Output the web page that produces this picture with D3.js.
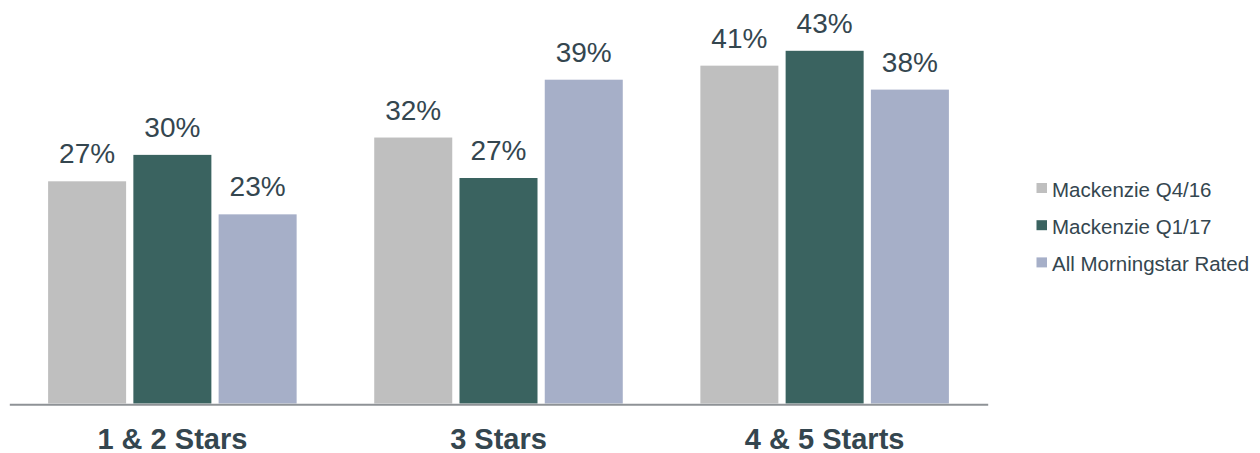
<!DOCTYPE html>
<html>
<head>
    <meta charset="utf-8">
    <title>Morningstar ratings</title>
    <script type="text/javascript" src="https://cdnjs.cloudflare.com/ajax/libs/d3/7.8.5/d3.min.js"></script>
    <style>
        body { margin: 0; background: #fff; }
        text { font-family: "Liberation Sans", Arial, sans-serif; }
    </style>
</head>
<body>
<script type="text/javascript">
// data
let categories = ['1 & 2 Stars', '3 Stars', '4 & 5 Starts']
let seriesNames = ['Mackenzie Q4/16', 'Mackenzie Q1/17', 'All Morningstar Rated']
let q416 = [26.9, 32.2, 40.9]
let q117 = [30.1, 27.3, 42.7]
let allRated = [22.9, 39.2, 38.0]
let colors = ['#bfbfbf', '#3a6360', '#a6afc8']

let width = 1260,
    height = 453,
    textColor = '#34464f'

let seriesValues = [q416, q117, allRated]

let rows = categories.map(function(c, i){
    return { cat: c, vals: seriesValues.map(function(s, j){ return { key: seriesNames[j], v: s[i], j: j } }) }
})

let svg = d3.select('body').append('svg')
    .attr('width', width)
    .attr('height', height)

let x0 = d3.scaleBand()
    .domain(categories)
    .range([9.3, 987.7])
    .paddingInner(0)
    .paddingOuter(0)

let x1 = d3.scaleBand()
    .domain(seriesNames)
    .range([38.8, x0.bandwidth() - 38.8])
    .paddingInner(0.085)
    .paddingOuter(0)

let y = d3.scaleLinear()
    .domain([0, 45])
    .range([403.5, 403.5 - 45 * 8.26])

let groups = svg.selectAll('g.grp')
    .data(rows)
    .enter().append('g')
    .classed('grp', true)
    .attr('transform', function(d){ return 'translate(' + x0(d.cat) + ',0)' })

groups.selectAll('rect')
    .data(function(d){ return d.vals })
    .enter().append('rect')
    .attr('x', function(d){ return x1(d.key) })
    .attr('width', x1.bandwidth())
    .attr('y', function(d){ return y(d.v) })
    .attr('height', function(d){ return y(0) - y(d.v) })
    .attr('fill', function(d){ return colors[d.j] })

groups.selectAll('text.lbl')
    .data(function(d){ return d.vals })
    .enter().append('text')
    .classed('lbl', true)
    .attr('x', function(d){ return x1(d.key) + x1.bandwidth() / 2 })
    .attr('y', function(d){ return y(d.v) - 18 })
    .attr('text-anchor', 'middle')
    .attr('font-size', 28)
    .attr('fill', textColor)
    .text(function(d){ return Math.round(d.v) + '%' })

// baseline axis
let xAxis = d3.axisBottom(x0).tickSize(0).tickPadding(0)
let axisG = svg.append('g')
    .attr('transform', 'translate(0,404.3)')
    .call(xAxis)

axisG.select('.domain')
    .attr('stroke', '#8e9296')
    .attr('stroke-width', 2)

axisG.selectAll('.tick text')
    .attr('y', 45)
    .attr('dy', 0)
    .attr('font-size', 29)
    .attr('font-weight', 'bold')
    .attr('fill', textColor)
    .style('font-family', '"Liberation Sans", Arial, sans-serif')

// legend
let legend = svg.append('g')
    .attr('transform', 'translate(1036.5,188)')

let items = legend.selectAll('g')
    .data(seriesNames)
    .enter().append('g')
    .attr('transform', function(d, i){ return 'translate(0,' + i * 37.2 + ')' })

items.append('rect')
    .attr('x', 0)
    .attr('y', -5)
    .attr('width', 10.5)
    .attr('height', 10)
    .attr('fill', function(d, i){ return colors[i] })

items.append('text')
    .attr('x', 15.5)
    .attr('y', 8.5)
    .attr('font-size', 20.5)
    .attr('fill', textColor)
    .text(function(d){ return d })
</script>
</body>
</html>
